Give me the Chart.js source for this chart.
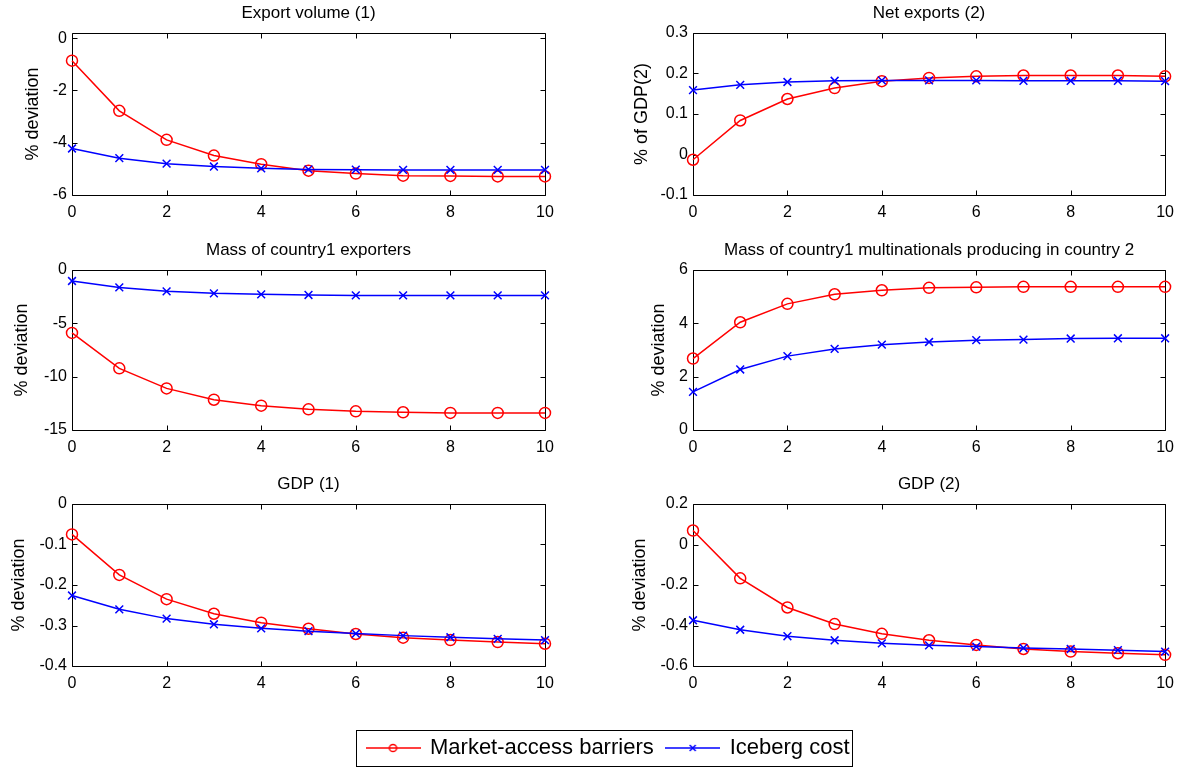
<!DOCTYPE html>
<html><head><meta charset="utf-8">
<script src="https://cdn.jsdelivr.net/npm/chart.js@4.4.1/dist/chart.umd.min.js"></script>
<style>
html,body{margin:0;padding:0;background:#fff;}
#fig{position:relative;width:1182px;height:767px;overflow:hidden;background:#fff;}
#fig canvas{position:absolute;}
#legBox{position:absolute;left:356px;top:730px;width:495px;height:35px;border:1px solid #000;}
</style></head><body>
<div id="fig"><div id="legBox"></div></div>
<script>
// ---------- data ----------
const periods = [0, 1, 2, 3, 4, 5, 6, 7, 8, 9, 10];
const xTicks = [0, 2, 4, 6, 8, 10];
const seriesNames = ['Market-access barriers', 'Iceberg cost'];

const exportVolumeMarket  = [-0.86, -2.78, -3.89, -4.49, -4.82, -5.07, -5.18, -5.26, -5.27, -5.29, -5.29];
const exportVolumeIceberg = [-4.22, -4.59, -4.80, -4.91, -4.98, -5.02, -5.03, -5.04, -5.04, -5.04, -5.04];
const exportVolumeTicks   = [-6, -4, -2, 0];

const netExportsMarket  = [-0.013, 0.084, 0.137, 0.164, 0.181, 0.189, 0.193, 0.195, 0.195, 0.195, 0.193];
const netExportsIceberg = [0.159, 0.172, 0.179, 0.182, 0.183, 0.183, 0.183, 0.182, 0.182, 0.182, 0.181];
const netExportsTicks   = [-0.1, 0, 0.1, 0.2, 0.3];

const exportersMarket  = [-5.9, -9.22, -11.1, -12.16, -12.72, -13.06, -13.25, -13.34, -13.4, -13.4, -13.4];
const exportersIceberg = [-1.03, -1.63, -2.0, -2.19, -2.28, -2.34, -2.38, -2.38, -2.38, -2.38, -2.38];
const exportersTicks   = [-15, -10, -5, 0];

const multinationalsMarket  = [2.68, 4.04, 4.73, 5.09, 5.24, 5.33, 5.35, 5.37, 5.37, 5.37, 5.37];
const multinationalsIceberg = [1.43, 2.27, 2.77, 3.04, 3.20, 3.30, 3.37, 3.39, 3.43, 3.44, 3.44];
const multinationalsTicks   = [0, 2, 4, 6];

const gdp1Market  = [-0.075, -0.175, -0.235, -0.271, -0.293, -0.308, -0.321, -0.330, -0.336, -0.341, -0.345];
const gdp1Iceberg = [-0.226, -0.260, -0.283, -0.297, -0.307, -0.314, -0.320, -0.325, -0.329, -0.333, -0.336];
const gdp1Ticks   = [-0.4, -0.3, -0.2, -0.1, 0];

const gdp2Market  = [0.069, -0.167, -0.311, -0.393, -0.441, -0.473, -0.496, -0.516, -0.529, -0.537, -0.545];
const gdp2Iceberg = [-0.374, -0.421, -0.453, -0.473, -0.488, -0.498, -0.504, -0.511, -0.516, -0.522, -0.529];
const gdp2Ticks   = [-0.6, -0.4, -0.2, 0, 0.2];

// ---------- panels ----------
const panels = [
  {title: 'Export volume (1)', yLabel: '% deviation', market: exportVolumeMarket, iceberg: exportVolumeIceberg, ticks: exportVolumeTicks, yMin: -6, yMax: 0.2, col: 0, row: 0, yTitlePad: 22},
  {title: 'Net exports (2)', yLabel: '% of GDP(2)', market: netExportsMarket, iceberg: netExportsIceberg, ticks: netExportsTicks, yMin: -0.1, yMax: 0.3, col: 1, row: 0, yTitlePad: 11},
  {title: 'Mass of country1 exporters', yLabel: '% deviation', market: exportersMarket, iceberg: exportersIceberg, ticks: exportersTicks, yMin: -15, yMax: 0, col: 0, row: 1, yTitlePad: 11},
  {title: 'Mass of country1 multinationals producing in country 2', yLabel: '% deviation', market: multinationalsMarket, iceberg: multinationalsIceberg, ticks: multinationalsTicks, yMin: 0, yMax: 6, col: 1, row: 1, yTitlePad: 28},
  {title: 'GDP (1)', yLabel: '% deviation', market: gdp1Market, iceberg: gdp1Iceberg, ticks: gdp1Ticks, yMin: -0.4, yMax: 0, col: 0, row: 2, yTitlePad: 8},
  {title: 'GDP (2)', yLabel: '% deviation', market: gdp2Market, iceberg: gdp2Iceberg, ticks: gdp2Ticks, yMin: -0.6, yMax: 0.2, col: 1, row: 2, yTitlePad: 9}
];

const FONT = "'Liberation Sans', Arial, Helvetica, sans-serif";
const RED = '#ff0000', BLUE = '#0000ff';
const colLeft = [0, 620], colWidth = [590, 562], colYAxisW = [72, 73], colPadRight = [45, 16];
const rowTop = [33, 270, 504], rowBottom = [195, 430, 666];
const ABOVE = 35, BELOW = 30;

const fmt = v => String(Math.round(v * 1000) / 1000);

const matlabAxes = {
  id: 'matlabAxes',
  beforeDatasetsDraw(chart) {
    const {ctx, chartArea: a, scales} = chart;
    const x = scales.x, y = scales.y;
    const L = Math.round(a.left) + 0.5, R = Math.round(a.right) + 0.5;
    const T = Math.round(a.top) + 0.5, B = Math.round(a.bottom) + 0.5;
    ctx.save();
    ctx.strokeStyle = '#000';
    ctx.lineWidth = 1;
    ctx.beginPath();
    ctx.rect(L, T, R - L, B - T);
    const tl = 5;
    x.ticks.forEach(t => {
      const px = Math.round(x.getPixelForValue(t.value)) + 0.5;
      ctx.moveTo(px, B); ctx.lineTo(px, B - tl);
      ctx.moveTo(px, T); ctx.lineTo(px, T + tl);
    });
    y.ticks.forEach(t => {
      const py = Math.round(y.getPixelForValue(t.value)) + 0.5;
      ctx.moveTo(L, py); ctx.lineTo(L + tl, py);
      ctx.moveTo(R, py); ctx.lineTo(R - tl, py);
    });
    ctx.stroke();
    ctx.restore();
  }
};

const fig = document.getElementById('fig');

panels.forEach(p => {
  const cv = document.createElement('canvas');
  const top = rowTop[p.row] - ABOVE;
  const h = rowBottom[p.row] - rowTop[p.row] + ABOVE + BELOW;
  const w = colWidth[p.col];
  cv.width = w; cv.height = h;
  cv.style.left = colLeft[p.col] + 'px';
  cv.style.top = top + 'px';
  cv.style.width = w + 'px'; cv.style.height = h + 'px';
  fig.appendChild(cv);
  const yW = colYAxisW[p.col];
  new Chart(cv, {
    type: 'line',
    data: {
      datasets: [
        {label: seriesNames[0], data: periods.map((t, i) => ({x: t, y: p.market[i]})),
         borderColor: RED, backgroundColor: 'rgba(0,0,0,0)', borderWidth: 1.5,
         pointStyle: 'circle', pointRadius: 5.5, pointBorderWidth: 1.5,
         pointBorderColor: RED, pointBackgroundColor: 'rgba(0,0,0,0)', tension: 0, clip: false, order: 1},
        {label: seriesNames[1], data: periods.map((t, i) => ({x: t, y: p.iceberg[i]})),
         borderColor: BLUE, backgroundColor: 'rgba(0,0,0,0)', borderWidth: 1.5,
         pointStyle: 'crossRot', pointRadius: 5.5, pointBorderWidth: 1.5,
         pointBorderColor: BLUE, pointBackgroundColor: 'rgba(0,0,0,0)', tension: 0, clip: false, order: 0}
      ]
    },
    options: {
      responsive: false, animation: false, devicePixelRatio: 1,
      events: [],
      layout: {padding: {top: 5.3, left: 0, right: colPadRight[p.col], bottom: 0}},
      plugins: {
        legend: {display: false},
        tooltip: {enabled: false},
        title: {display: true, text: p.title, fullSize: false, color: '#000',
                font: {family: FONT, size: 17, weight: 'normal'}, padding: {top: 0, bottom: 9.3}}
      },
      scales: {
        x: {
          type: 'linear', min: 0, max: 10,
          afterBuildTicks: s => { s.ticks = xTicks.map(v => ({value: v})); },
          afterFit: s => { s.height = BELOW; },
          grid: {display: false, drawTicks: false}, border: {display: false},
          ticks: {color: '#000', font: {family: FONT, size: 16}, padding: 8, maxRotation: 0, autoSkip: false, callback: fmt}
        },
        y: {
          type: 'linear', min: p.yMin, max: p.yMax,
          afterBuildTicks: s => { s.ticks = p.ticks.map(v => ({value: v})); },
          afterFit: s => { s.width = yW; },
          grid: {display: false, drawTicks: false}, border: {display: false},
          ticks: {color: '#000', font: {family: FONT, size: 16}, padding: 5, autoSkip: false, callback: fmt},
          title: {display: true, text: p.yLabel, color: '#000', font: {family: FONT, size: 18},
                  padding: {top: p.yTitlePad, bottom: 0}}
        }
      }
    },
    plugins: [matlabAxes]
  });
});

// ---------- legend ----------
function legendIcon(kind, color) {
  const c = document.createElement('canvas');
  c.width = 55; c.height = 14;
  const g = c.getContext('2d');
  g.strokeStyle = color; g.lineWidth = 1.5;
  g.beginPath(); g.moveTo(0, 7); g.lineTo(55, 7); g.stroke();
  g.beginPath();
  if (kind === 'circle') {
    g.arc(27.5, 7, 3.6, 0, Math.PI * 2);
  } else {
    g.moveTo(24.5, 4); g.lineTo(30.5, 10);
    g.moveTo(30.5, 4); g.lineTo(24.5, 10);
  }
  g.stroke();
  return c;
}
const legendIcons = [legendIcon('circle', RED), legendIcon('cross', BLUE)];

const lc = document.createElement('canvas');
lc.width = 600; lc.height = 120;
lc.style.left = '354px'; lc.style.top = '724px';
lc.style.width = '600px'; lc.style.height = '120px';
fig.appendChild(lc);
new Chart(lc, {
  type: 'line',
  data: {datasets: [
    {label: seriesNames[0], data: [], borderColor: RED},
    {label: seriesNames[1], data: [], borderColor: BLUE}
  ]},
  options: {
    responsive: false, animation: false, devicePixelRatio: 1, events: [],
    layout: {padding: 0},
    scales: {x: {display: false}, y: {display: false}},
    plugins: {
      tooltip: {enabled: false},
      legend: {
        display: true, position: 'top', align: 'start',
        labels: {
          usePointStyle: true, pointStyleWidth: 52, boxHeight: 14, padding: 13,
          color: '#000', font: {family: FONT, size: 22},
          generateLabels: chart => chart.data.datasets.map((ds, i) => ({
            text: ds.label, pointStyle: legendIcons[i], fillStyle: 'rgba(0,0,0,0)',
            strokeStyle: 'rgba(0,0,0,0)', lineWidth: 1, hidden: false, datasetIndex: i, fontColor: '#000'
          }))
        }
      }
    }
  }
});
</script>
</body></html>
